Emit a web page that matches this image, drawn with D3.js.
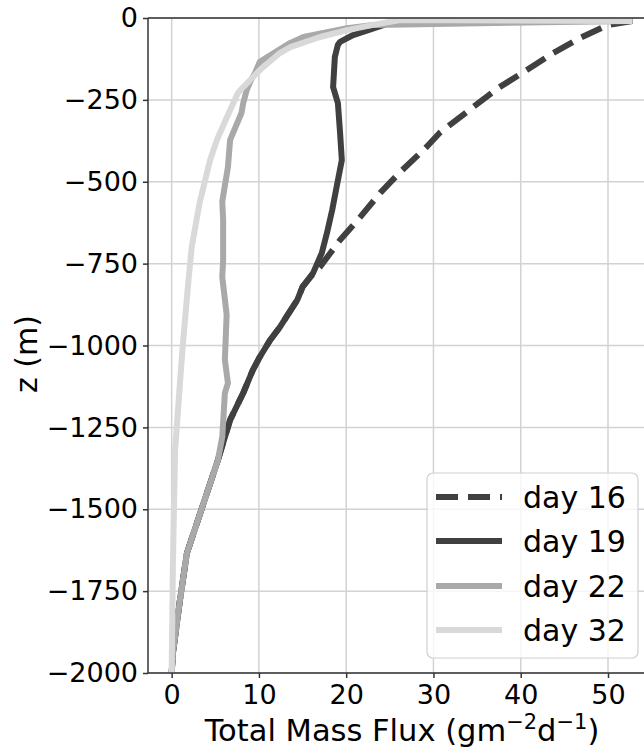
<!DOCTYPE html>
<html><head><meta charset="utf-8">
<script src="https://cdn.jsdelivr.net/npm/d3@7"></script>
<style>body{margin:0;background:#fff}svg{display:block}text{font-family:"DejaVu Sans",sans-serif}</style>
</head><body>
<svg id="c" width="644" height="748"></svg>
<script>
const xTicks = [0, 10, 20, 30, 40, 50];
const yTicks = [0, -250, -500, -750, -1000, -1250, -1500, -1750, -2000];
const seriesNames = ["day 16", "day 19", "day 22", "day 32"];
const seriesColors = ["#404040", "#404040", "#a9a9a9", "#d9d9d9"];
const seriesDash = ["22,10", null, null, null];

// [flux, z]
const day16 = [[52.8,-9],[50.0,-21],[46.8,-61],[43.7,-107],[40.7,-159],[37.4,-214],[34.4,-275],[30.7,-351],[29.2,-394],[26.2,-470],[23.9,-534],[21.6,-608],[19.3,-678],[17.0,-760],[15.9,-791],[15.0,-821],[14.4,-861],[12.4,-944],[11.3,-983],[10.1,-1035],[9.3,-1075],[8.2,-1145],[6.7,-1227],[5.3,-1350],[1.75,-1634],[0.95,-1777],[0.15,-1939],[0.0,-2000]];
const day19 = [[52.8,-9],[26.5,-2],[20.8,-52],[19.3,-73],[19.05,-82],[18.7,-119],[18.5,-211],[19.05,-260],[19.3,-351],[19.5,-434],[18.9,-516],[18.4,-586],[17.8,-656],[17.2,-718],[16.2,-779],[15.0,-821],[14.4,-861],[12.4,-944],[11.3,-983],[10.1,-1035],[9.3,-1075],[8.2,-1145],[6.7,-1227],[5.3,-1350],[1.75,-1634],[0.95,-1777],[0.15,-1939],[0.0,-2000]];
const day22 = [[52.8,-9],[23.1,-21],[20.1,-31],[15.1,-58],[13.6,-76],[10.1,-134],[9.6,-165],[9.0,-195],[8.6,-220],[8.2,-260],[8.0,-290],[6.7,-372],[6.45,-455],[5.8,-560],[5.9,-617],[5.9,-739],[5.8,-791],[6.3,-905],[6.1,-1044],[6.45,-1115],[6.1,-1145],[5.8,-1279],[5.3,-1350],[1.75,-1634],[0.95,-1777],[0.15,-1939],[0.0,-2000]];
const day32 = [[52.8,-9],[26.2,-6],[23.1,-21],[20.1,-37],[17.0,-58],[13.6,-89],[12.4,-107],[10.1,-159],[8.2,-211],[7.6,-229],[6.7,-281],[5.2,-372],[4.4,-434],[3.2,-565],[2.3,-699],[1.9,-809],[1.3,-992],[0.95,-1115],[0.4,-1319],[0.15,-1655],[0.0,-2000]];
const seriesData = [day16, day19, day22, day32];

const svg = d3.select("#c");
const L = 148, R = 656, T = 18, B = 673;
const x = d3.scaleLinear().domain([-2.71, 55.5]).range([L, R]);
const y = d3.scaleLinear().domain([-2000, 0]).range([B, T]);

svg.append("defs").append("clipPath").attr("id","clip")
  .append("rect").attr("x",L).attr("y",T).attr("width",R-L).attr("height",B-T);

// grid
const grid = svg.append("g");
grid.selectAll(".gx").data(xTicks).join("line")
  .attr("x1",d=>x(d)).attr("x2",d=>x(d)).attr("y1",T).attr("y2",B)
  .attr("stroke","#d2d2d2").attr("stroke-width",1.5);
grid.selectAll(".gy").data(yTicks).join("line")
  .attr("x1",L).attr("x2",R).attr("y1",d=>y(d)).attr("y2",d=>y(d))
  .attr("stroke","#d2d2d2").attr("stroke-width",1.5);

// lines
const line = d3.line().x(d=>x(d[0])).y(d=>y(d[1]));
const lg = svg.append("g").attr("clip-path","url(#clip)");
seriesData.forEach((data,i)=>{
  lg.append("path").attr("d",line(data)).attr("fill","none")
    .attr("stroke",seriesColors[i]).attr("stroke-width",6)
    .attr("stroke-linejoin","round")
    .attr("stroke-dasharray",seriesDash[i]);
});

// axes
const xAxis = d3.axisBottom(x).tickValues(xTicks).tickSize(5).tickPadding(7).tickFormat(d3.format("d"));
const yAxis = d3.axisLeft(y).tickValues(yTicks).tickSize(5).tickPadding(5).tickFormat(d3.format("d"));
const gx = svg.append("g").attr("transform",`translate(0,${B})`).call(xAxis);
const gy = svg.append("g").attr("transform",`translate(${L},0)`).call(yAxis);
[gx,gy].forEach(g=>{
  g.select(".domain").remove();
  g.selectAll(".tick line").attr("stroke","#333").attr("stroke-width",1.5);
  g.selectAll(".tick text").attr("fill","#000").style("font-size","27px").style("font-family","DejaVu Sans");
});
// spines
svg.append("line").attr("x1",L).attr("x2",L).attr("y1",T).attr("y2",B).attr("stroke","#333").attr("stroke-width",1.5);
svg.append("line").attr("x1",L).attr("x2",R).attr("y1",B).attr("y2",B).attr("stroke","#333").attr("stroke-width",1.5);
svg.append("line").attr("x1",L).attr("x2",R).attr("y1",T).attr("y2",T).attr("stroke","#333").attr("stroke-width",1.5);

// axis labels
const xl = svg.append("text").attr("x",(L+R)/2).attr("y",741).attr("text-anchor","middle")
  .style("font-size","30.5px").attr("fill","#000");
xl.append("tspan").text("Total Mass Flux (gm");
xl.append("tspan").attr("dy",-12).style("font-size","21px").text("−2");
xl.append("tspan").attr("dy",12).text("d");
xl.append("tspan").attr("dy",-12).style("font-size","21px").text("−1");
xl.append("tspan").attr("dy",12).text(")");

svg.append("text").attr("transform",`translate(37,354) rotate(-90)`)
  .attr("text-anchor","middle").style("font-size","30px").attr("fill","#000").text("z (m)");

// legend
const leg = svg.append("g");
leg.append("rect").attr("x",427).attr("y",473).attr("width",211).attr("height",185)
  .attr("rx",6).attr("fill","#fff").attr("fill-opacity",0.8).attr("stroke","#d0d0d0").attr("stroke-width",1.2);
const rowY = [497, 541, 586, 630];
seriesNames.forEach((n,i)=>{
  leg.append("line").attr("x1",436).attr("x2",502).attr("y1",rowY[i]).attr("y2",rowY[i])
    .attr("stroke",seriesColors[i]).attr("stroke-width",6).attr("stroke-dasharray",seriesDash[i]);
  leg.append("text").attr("x",523).attr("y",rowY[i]+11).style("font-size","30px").attr("fill","#000").text(n);
});
</script>
</body></html>
